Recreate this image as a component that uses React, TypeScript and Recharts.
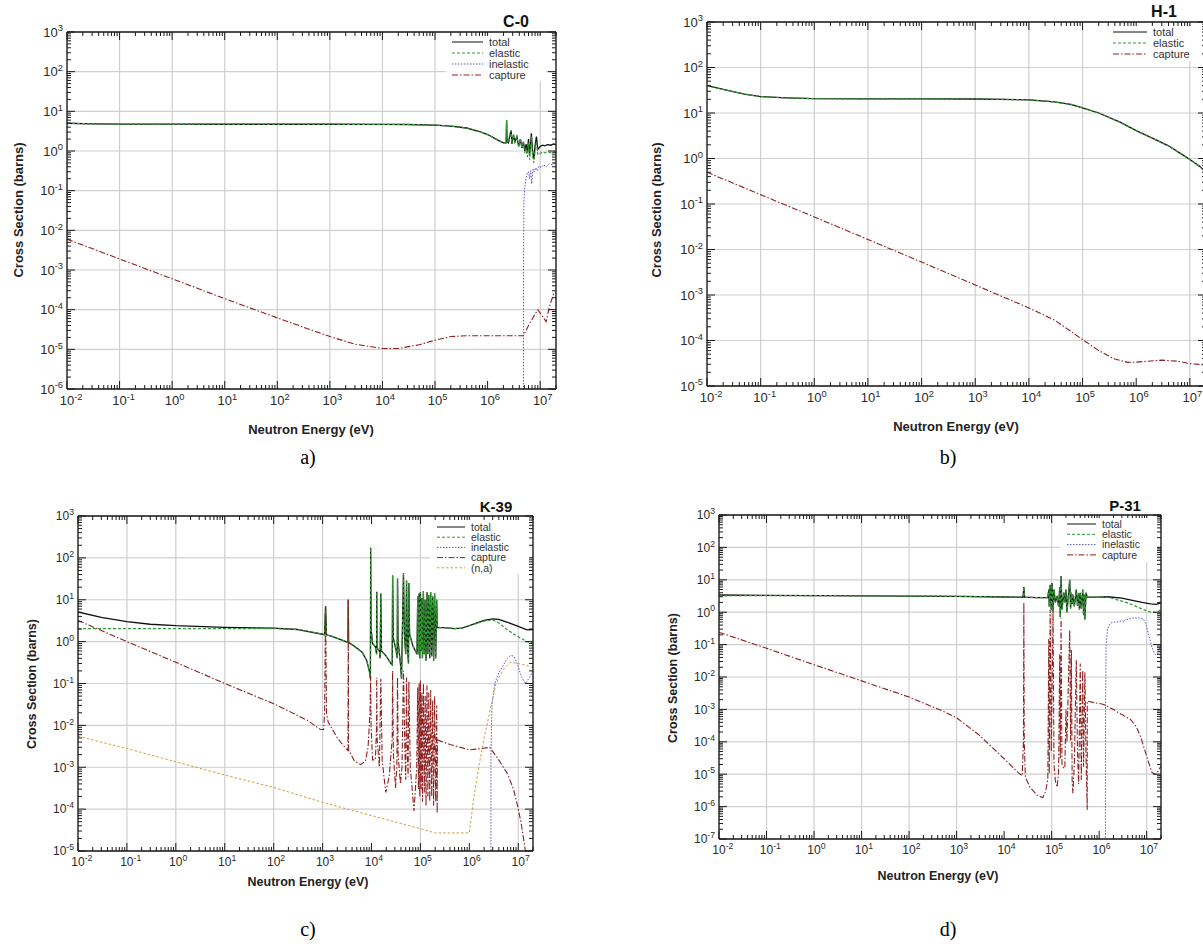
import React from 'react';
import { LineChart, Line, XAxis, YAxis, CartesianGrid } from 'recharts';

const FONT = '"Liberation Sans", Arial, Helvetica, sans-serif';
const SERIF = '"Liberation Serif", "Times New Roman", serif';

// ---------- tick labels (exponents of ten) ----------
const X_EXPS = [-2, -1, 0, 1, 2, 3, 4, 5, 6, 7];
const X_MAX = 2e7;
const A_Y_EXPS = [-6, -5, -4, -3, -2, -1, 0, 1, 2, 3];
const B_Y_EXPS = [-5, -4, -3, -2, -1, 0, 1, 2, 3];
const C_Y_EXPS = [-5, -4, -3, -2, -1, 0, 1, 2, 3];
const D_Y_EXPS = [-7, -6, -5, -4, -3, -2, -1, 0, 1, 2, 3];

// ---------- a) C-0 ----------
const c0Total = [[0.01,5.0],[0.03,4.85],[0.1,4.78],[1,4.74],[10,4.73],[100,4.73],[1e3,4.72],[1e4,4.7],[3e4,4.65],[1e5,4.5],[2e5,4.25],[4e5,3.8],[7e5,3.1],[1e6,2.6],[1.6e6,1.85],[2.0e6,1.6],[2.25e6,1.6],[2.3e6,6.0],[2.35e6,1.7],[2.5e6,1.6],[2.6e6,2.2],[2.8e6,3.3],[2.9e6,1.5],[3.1e6,2.6],[3.3e6,1.7],[3.6e6,2.3],[3.9e6,1.3],[4.2e6,2.0],[4.5e6,1.2],[4.8e6,1.7],[5.1e6,1.0],[5.4e6,1.5],[5.7e6,0.9],[6.0e6,2.0],[6.3e6,0.8],[6.8e6,2.8],[7.2e6,0.9],[7.6e6,0.65],[8.0e6,1.4],[8.5e6,2.3],[9e6,1.1],[1e7,1.3],[1.1e7,1.4],[1.2e7,1.35],[1.4e7,1.45],[1.6e7,1.4],[1.8e7,1.5],[2e7,1.45]];
const c0Elastic = [[0.01,5.0],[0.03,4.85],[0.1,4.78],[1,4.74],[10,4.73],[100,4.73],[1e3,4.72],[1e4,4.7],[3e4,4.65],[1e5,4.5],[2e5,4.25],[4e5,3.8],[7e5,3.1],[1e6,2.6],[1.6e6,1.85],[2.0e6,1.6],[2.25e6,1.6],[2.3e6,6.0],[2.35e6,1.7],[2.5e6,1.6],[2.6e6,2.2],[2.8e6,3.3],[2.9e6,1.5],[3.1e6,2.6],[3.3e6,1.7],[3.6e6,2.3],[3.9e6,1.3],[4.2e6,2.0],[4.5e6,1.2],[4.8e6,1.7],[5.1e6,0.9],[5.4e6,1.2],[5.7e6,0.7],[6.0e6,1.6],[6.3e6,0.6],[6.8e6,2.3],[7.2e6,0.7],[7.6e6,0.5],[8.0e6,1.0],[8.5e6,1.8],[9e6,0.8],[1e7,0.85],[1.1e7,0.95],[1.2e7,0.9],[1.4e7,0.95],[1.6e7,0.9],[1.8e7,0.95],[2e7,0.92]];
const c0Inelastic = [[4.8e6,1e-8],[4.82e6,1e-3],[4.9e6,0.05],[5.1e6,0.12],[5.4e6,0.2],[5.7e6,0.28],[6.0e6,0.3],[6.3e6,0.2],[6.6e6,0.32],[6.9e6,0.15],[7.3e6,0.35],[7.7e6,0.3],[8.2e6,0.38],[8.8e6,0.32],[9.5e6,0.42],[1.05e7,0.38],[1.15e7,0.45],[1.3e7,0.4],[1.5e7,0.48],[1.7e7,0.45],[2e7,0.5]];
const c0Capture = [[0.01,6e-3],[0.1,1.9e-3],[1,6e-4],[10,1.9e-4],[100,6.2e-5],[1e3,2.1e-5],[3e3,1.35e-5],[1e4,1.05e-5],[2e4,1.05e-5],[5e4,1.3e-5],[1e5,1.7e-5],[2e5,2.1e-5],[4e5,2.2e-5],[1e6,2.2e-5],[4.8e6,2.2e-5],[6e6,4e-5],[9e6,1e-4],[1.3e7,5e-5],[1.5e7,1.2e-4],[1.8e7,2.5e-4],[2e7,2.6e-4]];

// ---------- b) H-1 ----------
const h1Total = [[0.01,40],[0.02,33],[0.05,26],[0.1,23],[0.3,21.5],[1,20.6],[10,20.4],[100,20.4],[1e3,20.3],[1e4,19.5],[3e4,17.5],[6e4,15.5],[1e5,13],[2e5,10],[5e5,6.3],[1e6,4.1],[2e6,2.8],[4e6,1.9],[7e6,1.25],[1e7,0.95],[1.5e7,0.68],[2e7,0.5]];
const h1Elastic = [[0.01,40],[0.02,33],[0.05,26],[0.1,23],[0.3,21.5],[1,20.6],[10,20.4],[100,20.4],[1e3,20.3],[1e4,19.5],[3e4,17.5],[6e4,15.5],[1e5,13],[2e5,10],[5e5,6.3],[1e6,4.1],[2e6,2.8],[4e6,1.9],[7e6,1.25],[1e7,0.95],[1.5e7,0.68],[2e7,0.5]];
const h1Capture = [[0.01,0.5],[0.1,0.16],[1,0.052],[10,0.0166],[100,5.3e-3],[1e3,1.66e-3],[1e4,5.2e-4],[3e4,2.8e-4],[6e4,1.6e-4],[1e5,1.05e-4],[2e5,6e-5],[4e5,3.9e-5],[7e5,3.3e-5],[1e6,3.35e-5],[3e6,3.7e-5],[6e6,3.5e-5],[1e7,3.1e-5],[2e7,2.9e-5]];

// ---------- c) K-39 ----------
const k39Total = [[0.01,5.1],[0.03,3.8],[0.1,3.0],[0.3,2.6],[1,2.4],[10,2.2],[100,2.1],[300,1.95],[1e3,1.5],[1.1e3,1.45],[1.15e3,7],[1.2e3,1.45],[1.5e3,1.35],[2e3,1.2],[3e3,1.0],[3.3e3,0.95],[3.35e3,10],[3.4e3,0.95],[4e3,0.85],[5e3,0.7],[6.5e3,0.55],[8e3,0.35],[9e3,0.2],[9.5e3,0.13],[9.6e3,175],[9.8e3,2.0],[1.05e4,0.9],[1.2e4,0.75],[1.27e4,0.5],[1.28e4,15.5],[1.3e4,0.7],[1.45e4,0.6],[1.5e4,0.4],[1.55e4,14],[1.6e4,0.6],[2e4,0.45],[2.5e4,0.3],[2.65e4,0.28],[2.7e4,38],[2.8e4,1.2],[3.2e4,0.6],[3.35e4,0.4],[3.4e4,32],[3.5e4,1.0],[3.9e4,0.3],[4.1e4,0.13],[4.5e4,43],[4.7e4,1.5],[5.0e4,0.5],[5.2e4,29],[5.4e4,0.8],[5.7e4,0.3],[5.8e4,25],[6.0e4,1.5],[7e4,0.8],[8.5e4,0.5],[8.8e4,12],[9.1e4,0.5],[9.4e4,14],[9.7e4,0.4],[1.0e5,15],[1.03e5,0.6],[1.07e5,11],[1.1e5,0.4],[1.15e5,16],[1.2e5,0.5],[1.25e5,10],[1.3e5,0.35],[1.36e5,15],[1.42e5,0.5],[1.48e5,13],[1.55e5,0.4],[1.62e5,15],[1.7e5,0.45],[1.78e5,12],[1.86e5,0.35],[1.95e5,14],[2.05e5,0.4],[2.15e5,10],[2.2e5,2.2],[3e5,2.15],[5e5,2.05],[7e5,2.1],[1e6,2.4],[2e6,3.2],[3e6,3.5],[4e6,3.4],[6e6,2.9],[1e7,2.3],[1.5e7,1.9],[2e7,1.95]];
const k39Elastic = [[0.01,2.05],[0.1,2.05],[1,2.05],[10,2.05],[100,2.05],[300,1.95],[1e3,1.5],[1.1e3,1.45],[1.15e3,7],[1.2e3,1.45],[1.5e3,1.35],[2e3,1.2],[3e3,1.0],[3.3e3,0.95],[3.35e3,10],[3.4e3,0.95],[4e3,0.85],[5e3,0.7],[6.5e3,0.55],[8e3,0.35],[9e3,0.2],[9.5e3,0.13],[9.6e3,175],[9.8e3,2.0],[1.05e4,0.9],[1.2e4,0.75],[1.27e4,0.5],[1.28e4,15.5],[1.3e4,0.7],[1.45e4,0.6],[1.5e4,0.4],[1.55e4,14],[1.6e4,0.6],[2e4,0.45],[2.5e4,0.3],[2.65e4,0.28],[2.7e4,38],[2.8e4,1.2],[3.2e4,0.6],[3.35e4,0.4],[3.4e4,32],[3.5e4,1.0],[3.9e4,0.3],[4.1e4,0.13],[4.5e4,43],[4.7e4,1.5],[5.0e4,0.5],[5.2e4,29],[5.4e4,0.8],[5.7e4,0.3],[5.8e4,25],[6.0e4,1.5],[7e4,0.8],[8.5e4,0.5],[8.8e4,12],[9.1e4,0.5],[9.4e4,14],[9.7e4,0.4],[1.0e5,15],[1.03e5,0.6],[1.07e5,11],[1.1e5,0.4],[1.15e5,16],[1.2e5,0.5],[1.25e5,10],[1.3e5,0.35],[1.36e5,15],[1.42e5,0.5],[1.48e5,13],[1.55e5,0.4],[1.62e5,15],[1.7e5,0.45],[1.78e5,12],[1.86e5,0.35],[1.95e5,14],[2.05e5,0.4],[2.15e5,10],[2.2e5,2.2],[3e5,2.15],[5e5,2.05],[7e5,2.1],[1e6,2.4],[2e6,3.1],[3e6,3.3],[4e6,2.8],[6e6,1.9],[1e7,1.3],[1.5e7,1.0],[2e7,0.92]];
const k39Inelastic = [[2.75e6,1e-8],[2.76e6,2e-3],[2.9e6,0.03],[3.3e6,0.1],[4e6,0.18],[5e6,0.28],[6e6,0.4],[7e6,0.47],[8e6,0.45],[9.5e6,0.3],[1.15e7,0.15],[1.4e7,0.1],[1.7e7,0.14],[2e7,0.2]];
const k39Capture = [[0.01,3.2],[0.1,1.0],[1,0.32],[10,0.1],[100,0.033],[500,0.013],[900,8e-3],[1.05e3,8e-3],[1.1e3,0.02],[1.15e3,7],[1.2e3,0.02],[1.3e3,0.012],[2e3,5e-3],[3e3,2.8e-3],[3.3e3,2.5e-3],[3.35e3,10],[3.4e3,2.6e-3],[4.5e3,1.4e-3],[6e3,1.15e-3],[7.5e3,1.4e-3],[8.5e3,3e-3],[9.3e3,0.02],[9.6e3,0.15],[9.8e3,0.01],[1.05e4,1.5e-3],[1.2e4,1.5e-3],[1.27e4,0.01],[1.28e4,0.14],[1.3e4,5e-3],[1.45e4,1.0e-3],[1.55e4,0.13],[1.65e4,1.5e-3],[1.95e4,2.5e-4],[2.3e4,6e-4],[2.65e4,5e-3],[2.7e4,0.2],[2.8e4,2e-3],[3.1e4,3.2e-4],[3.3e4,1e-3],[3.4e4,0.14],[3.5e4,2e-3],[3.9e4,4e-4],[4.2e4,1e-3],[4.5e4,0.2],[4.8e4,3e-3],[5.0e4,5e-4],[5.2e4,0.14],[5.4e4,2e-3],[5.6e4,6e-4],[5.8e4,0.11],[6.2e4,1e-3],[7.4e4,9e-5],[8.4e4,1e-3],[8.8e4,0.08],[9.1e4,3e-4],[9.4e4,0.1],[9.7e4,2e-4],[1.0e5,0.12],[1.03e5,3e-4],[1.07e5,0.06],[1.1e5,1.5e-4],[1.15e5,0.1],[1.2e5,2.5e-4],[1.25e5,0.05],[1.3e5,1.2e-4],[1.36e5,0.09],[1.42e5,2e-4],[1.48e5,0.06],[1.55e5,1.5e-4],[1.62e5,0.07],[1.7e5,2e-4],[1.78e5,0.04],[1.86e5,1.2e-4],[1.95e5,0.05],[2.05e5,1.5e-4],[2.15e5,0.03],[2.2e5,8e-5],[2.22e5,4.5e-3],[4e5,3.5e-3],[1e6,2.6e-3],[1.8e6,2.8e-3],[2.6e6,3e-3],[4e6,1.5e-3],[6e6,7e-4],[8e6,3e-4],[1e7,1e-4],[1.15e7,4.5e-5],[1.4e7,1e-5],[1.7e7,3e-6]];
const k39NA = [[0.01,5.5e-3],[0.1,2.8e-3],[1,1.35e-3],[10,6.5e-4],[100,3.3e-4],[1e3,1.45e-4],[1e4,7e-5],[1e5,3.4e-5],[2e5,2.7e-5],[1e6,2.7e-5],[1.2e6,1.5e-4],[1.5e6,8e-4],[2e6,5e-3],[2.7e6,0.025],[3.5e6,0.1],[5e6,0.22],[6.8e6,0.32],[1e7,0.3],[1.5e7,0.27],[2e7,0.24]];

// ---------- d) P-31 ----------
const p31Total = [[0.01,3.4],[0.1,3.3],[1,3.25],[10,3.2],[100,3.15],[1e3,3.1],[1e4,2.95],[2.5e4,2.9],[2.6e4,6],[2.7e4,2.9],[5e4,2.8],[8.3e4,2.8],[8.7e4,5],[8.9e4,1.5],[9.3e4,7],[9.8e4,1.2],[1.02e5,8],[1.07e5,1.0],[1.12e5,5],[1.2e5,2.0],[1.3e5,3.2],[1.4e5,1.5],[1.48e5,6],[1.52e5,0.7],[1.58e5,13],[1.65e5,1.2],[1.8e5,4],[1.9e5,2.0],[2.0e5,5],[2.1e5,1.0],[2.4e5,10],[2.5e5,1.3],[2.6e5,4],[2.7e5,1.8],[2.8e5,3.5],[3.0e5,1.5],[3.3e5,5],[3.5e5,1.6],[3.7e5,3.8],[3.85e5,1.2],[4.0e5,4],[4.2e5,1.3],[4.5e5,5],[4.7e5,0.8],[4.85e5,3.5],[5.0e5,0.6],[5.3e5,4],[5.6e5,2.9],[1e6,2.9],[1.5e6,3.0],[3e6,2.7],[5e6,2.3],[8e6,2.0],[1.2e7,1.8],[1.6e7,1.75],[2e7,1.95]];
const p31Elastic = [[0.01,3.2],[0.1,3.25],[1,3.25],[10,3.2],[100,3.15],[1e3,3.1],[1e4,2.95],[2.5e4,2.9],[2.6e4,6],[2.7e4,2.9],[5e4,2.8],[8.3e4,2.8],[8.7e4,5],[8.9e4,1.5],[9.3e4,7],[9.8e4,1.2],[1.02e5,8],[1.07e5,1.0],[1.12e5,5],[1.2e5,2.0],[1.3e5,3.2],[1.4e5,1.5],[1.48e5,6],[1.52e5,0.7],[1.58e5,13],[1.65e5,1.2],[1.8e5,4],[1.9e5,2.0],[2.0e5,5],[2.1e5,1.0],[2.4e5,10],[2.5e5,1.3],[2.6e5,4],[2.7e5,1.8],[2.8e5,3.5],[3.0e5,1.5],[3.3e5,5],[3.5e5,1.6],[3.7e5,3.8],[3.85e5,1.2],[4.0e5,4],[4.2e5,1.3],[4.5e5,5],[4.7e5,0.8],[4.85e5,3.5],[5.0e5,0.6],[5.3e5,4],[5.6e5,2.9],[1e6,2.9],[1.5e6,2.9],[2e6,2.6],[3e6,2.2],[5e6,1.7],[8e6,1.25],[1.2e7,1.0],[1.6e7,0.97],[2e7,1.2]];
const p31Inelastic = [[1.35e6,1e-9],[1.36e6,1e-3],[1.4e6,0.1],[1.5e6,0.3],[1.7e6,0.45],[2e6,0.5],[2.5e6,0.5],[3e6,0.55],[3.3e6,0.5],[3.6e6,0.62],[4e6,0.6],[5e6,0.66],[7e6,0.66],[8.5e6,0.62],[9.5e6,0.45],[1.1e7,0.2],[1.3e7,0.08],[1.5e7,0.05],[1.7e7,0.05],[2e7,0.1]];
const p31Capture = [[0.01,0.24],[0.1,0.077],[1,0.024],[10,7.6e-3],[100,2.4e-3],[500,9e-4],[1e3,5.5e-4],[3e3,1.6e-4],[1e4,3e-5],[2e4,1.1e-5],[2.4e4,9e-6],[2.55e4,1e-4],[2.6e4,2],[2.65e4,1e-4],[2.8e4,8e-6],[3.5e4,4e-6],[5e4,2.2e-6],[6.5e4,1.9e-6],[7.5e4,3e-6],[8.3e4,7e-6],[8.7e4,0.15],[8.9e4,1e-5],[9.3e4,1.2],[9.8e4,5e-5],[1.07e5,1.0],[1.12e5,2e-5],[1.2e5,6e-6],[1.3e5,4e-6],[1.4e5,1.2e-5],[1.48e5,0.05],[1.52e5,3e-5],[1.58e5,0.65],[1.65e5,2e-5],[1.8e5,1.5e-5],[1.9e5,1.7e-5],[2.0e5,1e-3],[2.1e5,1e-4],[2.4e5,0.28],[2.5e5,1.1e-4],[2.6e5,0.068],[2.7e5,6e-6],[2.8e5,2.6e-6],[3.0e5,2e-5],[3.3e5,0.033],[3.5e5,4.5e-5],[3.7e5,5e-6],[4.0e5,0.026],[4.2e5,6.6e-6],[4.5e5,0.016],[4.7e5,1.7e-5],[5.0e5,0.014],[5.3e5,3e-5],[5.6e5,8e-7],[5.62e5,1.8e-3],[8e5,1.6e-3],[1.2e6,1.45e-3],[1.4e6,1.3e-3],[2e6,1e-3],[2.5e6,8e-4],[3e6,7e-4],[3.5e6,6e-4],[4.5e6,5e-4],[6e6,3e-4],[7.5e6,1.4e-4],[1e7,3.5e-5],[1.3e7,1.1e-5],[1.6e7,1e-5],[2e7,1.8e-5]];

// ---------- styles ----------
const ST: any = {
  total: { color: '#111111', dash: undefined, width: 1.3 },
  elastic: { color: '#2f9a2f', dash: '3 2', width: 1.2 },
  inelastic: { color: '#5656c8', dash: '1.5 1.5', width: 1 },
  capture: { color: '#8e1f1f', dash: '6 2 1.5 2', width: 1.1 },
  na: { color: '#c9a040', dash: '2.5 2', width: 1 },
};

const mk = (name: string, key: string, data: number[][]) => ({ name, data, ...ST[key] });

const PANELS: any[] = [
  {
    id: 'a', title: 'C-0', tag: 'a)', L: 67, T: 32, R: 556, B: 389, yExps: A_Y_EXPS,
    series: [mk('total', 'total', c0Total), mk('elastic', 'elastic', c0Elastic), mk('inelastic', 'inelastic', c0Inelastic), mk('capture', 'capture', c0Capture)],
    tickFs: 13, axisFs: 13, titleFs: 16,
    titleX: 516, titleY: 21, yLabX: 18, yLabY: 210, xLabX: 311, xLabY: 429, tagX: 308, tagY: 457,
    legX: 452, legY: 42, legRow: 11, legLen: 31, legFs: 11, box: [446, 36, 100, 45],
  },
  {
    id: 'b', title: 'H-1', tag: 'b)', L: 707, T: 22, R: 1206, B: 386, yExps: B_Y_EXPS,
    series: [mk('total', 'total', h1Total), mk('elastic', 'elastic', h1Elastic), mk('capture', 'capture', h1Capture)],
    tickFs: 13, axisFs: 13, titleFs: 16,
    titleX: 1164, titleY: 11, yLabX: 656, yLabY: 210, xLabX: 956, xLabY: 426, tagX: 948, tagY: 457,
    legX: 1113, legY: 32, legRow: 11, legLen: 34, legFs: 11, box: [1106, 26, 94, 35],
  },
  {
    id: 'c', title: 'K-39', tag: 'c)', L: 78, T: 516, R: 533, B: 851, yExps: C_Y_EXPS,
    series: [mk('total', 'total', k39Total), mk('elastic', 'elastic', k39Elastic), mk('inelastic', 'inelastic', k39Inelastic), mk('capture', 'capture', k39Capture), mk('(n,a)', 'na', k39NA)],
    tickFs: 12, axisFs: 12.5, titleFs: 15,
    titleX: 496, titleY: 507, yLabX: 31, yLabY: 684, xLabX: 308, xLabY: 881, tagX: 308, tagY: 929,
    legX: 437, legY: 527, legRow: 10.2, legLen: 28, legFs: 10.5, box: [430, 520, 99, 54],
  },
  {
    id: 'd', title: 'P-31', tag: 'd)', L: 719, T: 515, R: 1161, B: 839, yExps: D_Y_EXPS,
    series: [mk('total', 'total', p31Total), mk('elastic', 'elastic', p31Elastic), mk('inelastic', 'inelastic', p31Inelastic), mk('capture', 'capture', p31Capture)],
    tickFs: 12, axisFs: 12.5, titleFs: 15,
    titleX: 1125, titleY: 506, yLabX: 672, yLabY: 678, xLabX: 938, xLabY: 875, tagX: 948, tagY: 929,
    legX: 1067, legY: 524, legRow: 10.3, legLen: 29, legFs: 10.5, box: [1060, 518, 97, 44],
  },
];

const withMinor = (exps: number[], max: number) => {
  const out: number[] = [];
  exps.forEach((e) => {
    for (let m = 1; m <= 9; m++) {
      const v = m * 10 ** e;
      if (v <= max * 1.0000001) out.push(v);
    }
  });
  return out;
};

const isMajor = (v: number) => {
  const lg = Math.log10(v);
  return Math.abs(lg - Math.round(lg)) < 1e-6;
};

const TXT = '#2a2a2a';
const AX = '#1a1a1a';

const Sup = ({ exp, fs }: { exp: number; fs: number }) => (
  <>
    <tspan>10</tspan>
    <tspan dy={-fs * 0.42} fontSize={fs * 0.72}>{String(exp)}</tspan>
  </>
);

const bottomTick = (fs: number) => (p: any) => {
  const v = p.payload.value;
  const maj = isMajor(v);
  const exp = Math.round(Math.log10(v));
  return (
    <g>
      <line x1={p.x} x2={p.x} y1={p.y} y2={p.y - (maj ? 8 : 4)} stroke={AX} strokeWidth={1} />
      {maj && (
        <text x={p.x - fs * 0.56} y={p.y + fs + 3} fontSize={fs} fill={TXT} fontFamily={FONT}>
          <Sup exp={exp} fs={fs} />
        </text>
      )}
    </g>
  );
};

const topTick = (p: any) => {
  const maj = isMajor(p.payload.value);
  return <line x1={p.x} x2={p.x} y1={p.y} y2={p.y + (maj ? 8 : 4)} stroke={AX} strokeWidth={1} />;
};

const leftTick = (fs: number) => (p: any) => {
  const v = p.payload.value;
  const maj = isMajor(v);
  const exp = Math.round(Math.log10(v));
  return (
    <g>
      <line x1={p.x} x2={p.x + (maj ? 8 : 4)} y1={p.y} y2={p.y} stroke={AX} strokeWidth={1} />
      {maj && (
        <text x={p.x - 4} y={p.y + fs * 0.36} textAnchor="end" fontSize={fs} fill={TXT} fontFamily={FONT}>
          <Sup exp={exp} fs={fs} />
        </text>
      )}
    </g>
  );
};

const rightTick = (p: any) => {
  const maj = isMajor(p.payload.value);
  return <line x1={p.x} x2={p.x - (maj ? 8 : 4)} y1={p.y} y2={p.y} stroke={AX} strokeWidth={1} />;
};

const toPts = (a: number[][]) => a.map(([e, v]) => ({ e, v }));

function Panel({ cfg }: { cfg: any }) {
  const mL = 70, mR = 20, mT = 40, mB = 70;
  const W = cfg.R - cfg.L + mL + mR + 2;
  const H = cfg.B - cfg.T + mT + mB + 2;
  const yExps: number[] = cfg.yExps;
  const yMaxV = 10 ** yExps[yExps.length - 1];
  const xMajor = X_EXPS.map((e) => 10 ** e);
  const xAll = withMinor(X_EXPS, X_MAX);
  const yMajor = yExps.map((e) => 10 ** e);
  const yAll = withMinor(yExps, yMaxV);
  const xDom: [number, number] = [10 ** X_EXPS[0], X_MAX];
  const yDom: [number, number] = [yMajor[0], yMaxV];
  const axisLine = { stroke: AX, strokeWidth: 1.3 };
  return (
    <div style={{ position: 'absolute', left: cfg.L - mL - 1, top: cfg.T - mT - 1 }}>
      <LineChart width={W} height={H} margin={{ top: mT, right: mR, bottom: mB, left: mL }}>
        <XAxis xAxisId="b" orientation="bottom" type="number" dataKey="e" scale="log" domain={xDom} allowDataOverflow
          ticks={xAll} interval={0} height={1} tickSize={0} tickMargin={0} tickLine={false} axisLine={axisLine} tick={bottomTick(cfg.tickFs)} />
        <XAxis xAxisId="t" orientation="top" type="number" dataKey="e" scale="log" domain={xDom} allowDataOverflow
          ticks={xAll} interval={0} height={1} tickSize={0} tickMargin={0} tickLine={false} axisLine={axisLine} tick={topTick} />
        <YAxis yAxisId="l" orientation="left" type="number" scale="log" domain={yDom} allowDataOverflow
          ticks={yAll} interval={0} width={1} tickSize={0} tickMargin={0} tickLine={false} axisLine={axisLine} tick={leftTick(cfg.tickFs)} />
        <YAxis yAxisId="r" orientation="right" type="number" scale="log" domain={yDom} allowDataOverflow
          ticks={yAll} interval={0} width={1} tickSize={0} tickMargin={0} tickLine={false} axisLine={axisLine} tick={rightTick} />
        <XAxis xAxisId="g" orientation="bottom" type="number" dataKey="e" scale="log" domain={xDom} allowDataOverflow ticks={xMajor} height={0} hide />
        <YAxis yAxisId="g" orientation="left" type="number" scale="log" domain={yDom} allowDataOverflow ticks={yMajor} width={0} hide />
        <CartesianGrid xAxisId="g" yAxisId="g" stroke="#cfcfcf" strokeWidth={1.2} />
        {cfg.series.map((s: any) => (
          <Line key={s.name} xAxisId="b" yAxisId="l" data={toPts(s.data)} dataKey="v" type="linear"
            dot={false} activeDot={false} stroke={s.color} strokeWidth={s.width} strokeDasharray={s.dash}
            isAnimationActive={false} />
        ))}
      </LineChart>
    </div>
  );
}

function Annotations() {
  return (
    <svg width={1203} height={946} style={{ position: 'absolute', left: 0, top: 0, pointerEvents: 'none' }}>
      {PANELS.map((c) => (
        <g key={c.id}>
          <rect x={c.box[0]} y={c.box[1]} width={c.box[2]} height={c.box[3]} fill="#ffffff" />
          {c.series.map((s: any, i: number) => {
            const y = c.legY + i * c.legRow;
            return (
              <g key={s.name}>
                <line x1={c.legX} x2={c.legX + c.legLen} y1={y} y2={y} stroke={s.color} strokeWidth={1} strokeDasharray={s.dash} />
                <text x={c.legX + c.legLen + 6} y={y + c.legFs * 0.36} fontSize={c.legFs} fill="#333" fontFamily={FONT}>{s.name}</text>
              </g>
            );
          })}
          <text x={c.titleX} y={c.titleY + c.titleFs * 0.36} textAnchor="middle" fontSize={c.titleFs} fontWeight="bold" fill="#111" fontFamily={FONT}>{c.title}</text>
          <text x={c.xLabX} y={c.xLabY + c.axisFs * 0.36} textAnchor="middle" fontSize={c.axisFs} fontWeight="bold" fill="#222" fontFamily={FONT}>Neutron Energy (eV)</text>
          <text transform={`translate(${c.yLabX + c.axisFs * 0.36}, ${c.yLabY}) rotate(-90)`} textAnchor="middle" fontSize={c.axisFs} fontWeight="bold" fill="#222" fontFamily={FONT}>Cross Section (barns)</text>
          <text x={c.tagX} y={c.tagY + 7} textAnchor="middle" fontSize={20} fill="#000" fontFamily={SERIF}>{c.tag}</text>
        </g>
      ))}
    </svg>
  );
}

export default function App() {
  return (
    <div style={{ position: 'absolute', left: 0, top: 0, width: 1203, height: 946, overflow: 'hidden', background: '#ffffff' }}>
      {PANELS.map((c) => <Panel key={c.id} cfg={c} />)}
      <Annotations />
    </div>
  );
}
